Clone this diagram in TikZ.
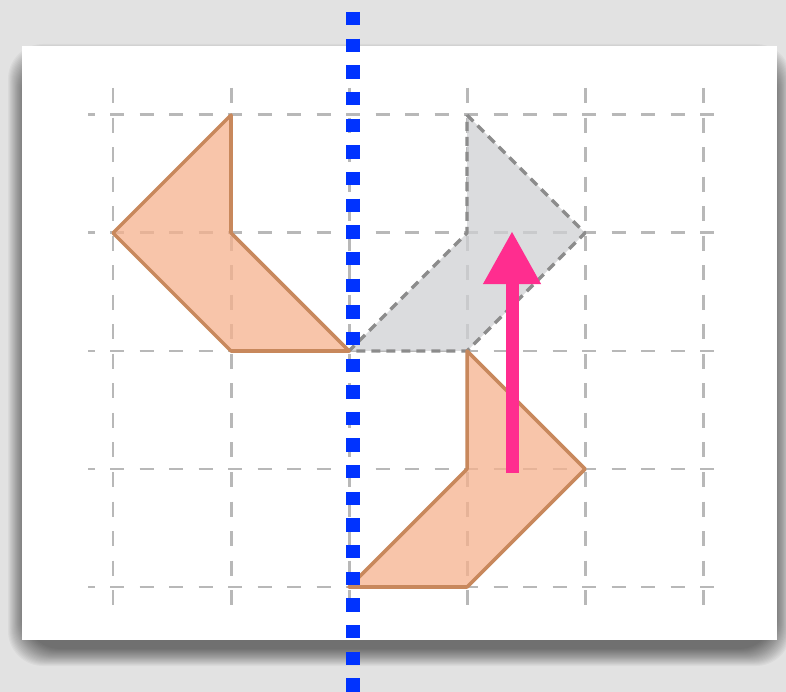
\documentclass[tikz,border=0pt]{standalone}
\usetikzlibrary{arrows.meta}
\definecolor{bgc}{HTML}{E2E2E2}
\definecolor{gridc}{HTML}{B8B8B8}
\definecolor{orfill}{HTML}{F6B28E}
\definecolor{orline}{HTML}{C8885C}
\definecolor{gyfill}{HTML}{D0D1D3}
\definecolor{gyline}{HTML}{8C8C8C}
\definecolor{pinkc}{HTML}{FF2D8F}
\definecolor{bluec}{HTML}{0033FF}
\tikzset{
  hgrid/.style={gridc, line width=0.85pt, dash pattern=on 3.98pt off 4.41pt, dash phase=2.13pt},
  vgrid/.style={gridc, line width=0.85pt, dash pattern=on 4.27pt off 4.13pt},
  orshape/.style={fill=orfill, fill opacity=0.75, draw=orline, draw opacity=1, line width=1pt, line join=round},
  gyshape/.style={fill=gyfill, fill opacity=0.75, draw=gyline, draw opacity=1, line width=0.95pt, dash pattern=on 2.56pt off 1.71pt, line join=round},
  mirror/.style={bluec, line width=3.98pt, dash pattern=on 3.79pt off 3.79pt, dash phase=4.17pt},
  movearrow/.style={pinkc, line width=3.7pt, -{Triangle[length=15.1pt,width=15.4pt]}}
}
\begin{document}
\begin{tikzpicture}[x=0.01cm,y=-0.01cm]
\useasboundingbox (0,0) rectangle (786,692);
\fill[bgc] (0,0) rectangle (786,692);
% soft shadow
\foreach \i in {0,...,19}{
  \fill[black, opacity=0.03, rounded corners=10] (22-14+\i*0.9,46+12-14+\i*0.9) rectangle (777+14-\i*0.9,640+12+14-\i*0.9);
}
\fill[white] (22,46) rectangle (777,640);
% grid
\foreach \yy in {115,233,351,469,587}{
  \draw[hgrid] (88,\yy) -- (728,\yy);
}
\foreach \xx in {113,231,349,467,585,703}{
  \draw[vgrid] (\xx,88) -- (\xx,610);
}
% shapes
\coordinate (a1) at (231,115); \coordinate (a2) at (231,233); \coordinate (a3) at (349,351);
\coordinate (a4) at (231,351); \coordinate (a5) at (113,233);
\coordinate (g1) at (467,115); \coordinate (g2) at (585,233); \coordinate (g3) at (467,351);
\coordinate (g4) at (349,351); \coordinate (g5) at (467,233);
\coordinate (b1) at (467,351); \coordinate (b2) at (585,469); \coordinate (b3) at (467,587);
\coordinate (b4) at (349,587); \coordinate (b5) at (467,469);
\draw[gyshape] (g1) -- (g2) -- (g3) -- (g4) -- (g5) -- cycle;
\draw[orshape] (a1) -- (a2) -- (a3) -- (a4) -- (a5) -- cycle;
\draw[orshape] (b1) -- (b2) -- (b3) -- (b4) -- (b5) -- cycle;
% arrow
\coordinate (arS) at (512,473); \coordinate (arE) at (512,231);
\draw[movearrow] (arS) -- (arE);
% mirror line
\coordinate (mT) at (353,0); \coordinate (mB) at (353,692);
\draw[mirror] (mT) -- (mB);
\end{tikzpicture}
\end{document}
